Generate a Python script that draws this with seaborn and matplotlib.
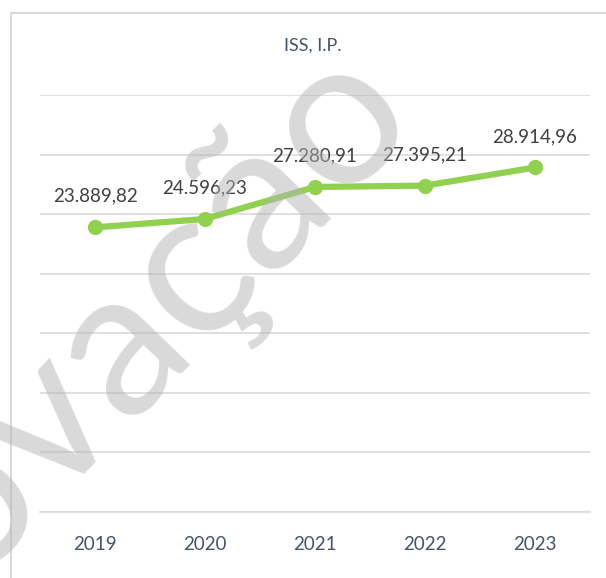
import matplotlib
matplotlib.use("Agg")
import matplotlib.pyplot as plt
import seaborn as sns
import pandas as pd
from matplotlib.patches import Rectangle

# Data
years = ["2019", "2020", "2021", "2022", "2023"]
values = [23889.82, 24596.23, 27280.91, 27395.21, 28914.96]
value_labels = ["23.889,82", "24.596,23", "27.280,91", "27.395,21", "28.914,96"]
title = "ISS, I.P."
watermark = "aprovação"

df = pd.DataFrame({"ano": years, "valor": values})

sns.set_style("white")
plt.rcParams["font.family"] = ["Lato", "DejaVu Sans"]

fig = plt.figure(figsize=(6.06, 5.78), dpi=100)
ax = fig.add_axes([40 / 606, 1 - 512 / 578, 550 / 606, 417 / 578])

green = "#92D050"
sns.lineplot(data=df, x="ano", y="valor", ax=ax, color=green, linewidth=4.5,
             marker="o", markersize=11, markeredgewidth=0, sort=False)

ax.set_ylim(0, 35000)
ax.set_xlim(-0.5, len(years) - 0.5)
ax.set_yticks(range(0, 35001, 5000))
ax.yaxis.grid(True, color="#D9D9D9", linewidth=1.2)
ax.set_axisbelow(True)
ax.tick_params(axis="y", left=False, labelleft=False)
ax.set_xlabel("")
ax.set_ylabel("")

for s in ["top", "right", "left"]:
    ax.spines[s].set_visible(False)
ax.spines["bottom"].set_color("#D9D9D9")
ax.spines["bottom"].set_linewidth(1.2)

ax.set_xticks(range(len(years)))
ax.set_xticklabels(years, color="#44546A", fontsize=13.5)
ax.set_xticks([i - 0.5 for i in range(len(years) + 1)], minor=True)
ax.tick_params(axis="x", which="major", length=0, pad=17)
ax.tick_params(axis="x", which="minor", length=6, width=1.2, color="#D9D9D9")

for i, (v, lab) in enumerate(zip(values, value_labels)):
    ax.annotate(lab, (i, v), xytext=(0, 31), textcoords="offset points" if False else "offset pixels",
                ha="center", va="center", fontsize=13.5, color="#404040")

fig.text(313 / 606, 1 - 46 / 578, title, ha="center", va="center",
         fontsize=13, color="#44546A")

# chart frame
fig.patches.append(Rectangle((11 / 606, -0.05), 1.0, 1.05 - 13 / 578,
                             transform=fig.transFigure, fill=False,
                             edgecolor="#D9D9D9", linewidth=1.5))

# watermark
fig.text(421 / 606, 1 - 118 / 578, watermark, rotation=46, rotation_mode="anchor",
         ha="right", va="baseline", fontsize=150, color="#b4b4b4", alpha=0.5)

fig.savefig("out.png", dpi=100)
